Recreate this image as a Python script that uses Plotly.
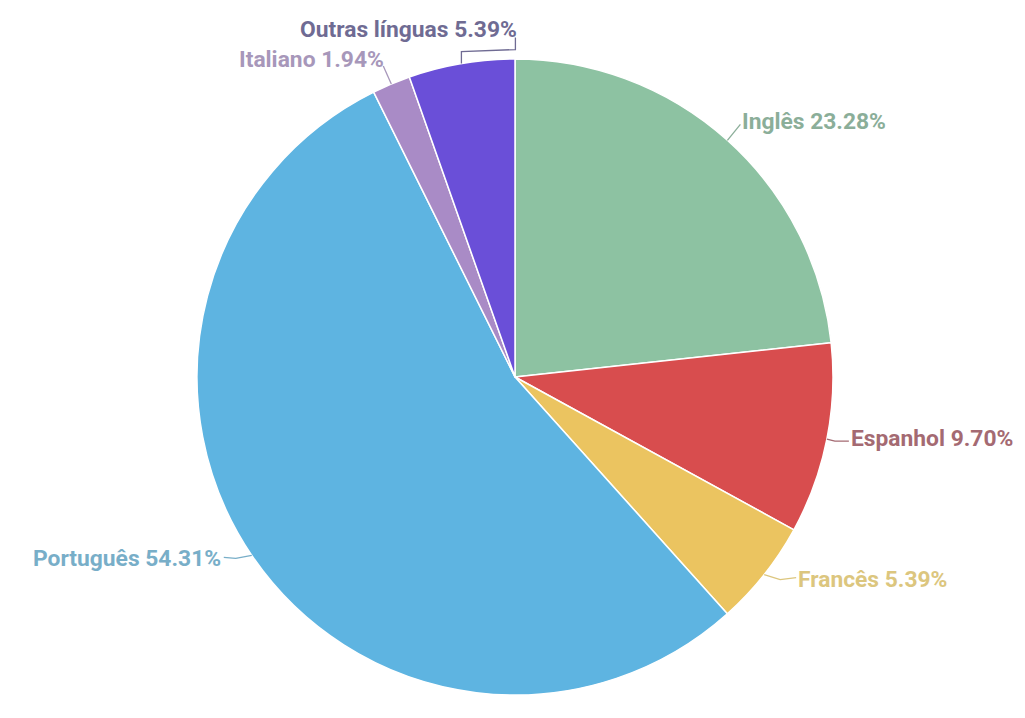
import math
import plotly.graph_objects as go

labels = ["Inglês", "Espanhol", "Francês", "Português", "Italiano", "Outras línguas"]
values = [23.28, 9.70, 5.39, 54.31, 1.94, 5.39]
slice_colors = ["#8DC2A2", "#D84D4E", "#EBC460", "#5EB4E1", "#A98BC6", "#6A4FD8"]
label_colors = ["#8BAE99", "#A46A72", "#DCC67E", "#78AEC8", "#A797BA", "#6F6B93"]

W, H = 1025, 718
CX, CY, R = 515, 377, 318

# leader path offsets (px, relative to slice edge point) and text placement
leader_style = [
    dict(path=[(0, 0), (13, -16)], text=(13, -19), anchor="left"),
    dict(path=[(0, 0), (8, 2), (22, 2)], text=(22, -1), anchor="left"),
    dict(path=[(0, 0), (16, 5), (32, 3)], text=(32, 5), anchor="left"),
    dict(path=[(0, 0), (-16, 3), (-28, 2)], text=(-29, 3), anchor="right"),
    dict(path=[(0, 0), (-8, -18)], text=(-5, -25), anchor="right"),
    dict(path=[(0, 0), (0, -12), (54, -14), (54, -26)], text=(58, -34), anchor="right"),
]

fig = go.Figure(go.Pie(
    labels=labels, values=values, sort=False, direction="clockwise", rotation=0,
    marker=dict(colors=slice_colors, line=dict(color="white", width=1.5)),
    textinfo="none", hoverinfo="label+percent", showlegend=False,
    domain=dict(x=[(CX - R) / W, (CX + R) / W], y=[1 - (CY + R) / H, 1 - (CY - R) / H]),
))

def px2paper(x, y):
    return x / W, 1 - y / H

total = sum(values)
cum = 0.0
shapes, annotations = [], []
for lab, val, col, st in zip(labels, values, label_colors, leader_style):
    mid = (cum + val / 2) / total * 360.0
    cum += val
    a = math.radians(mid)
    ex, ey = CX + R * math.sin(a), CY - R * math.cos(a)
    pts = [px2paper(ex + dx, ey + dy) for dx, dy in st["path"]]
    path = "M " + " L ".join(f"{p[0]:.5f} {p[1]:.5f}" for p in pts)
    shapes.append(dict(type="path", path=path, xref="paper", yref="paper",
                       line=dict(color=col, width=1.3)))
    tx, ty = px2paper(ex + st["text"][0], ey + st["text"][1])
    annotations.append(dict(
        x=tx, y=ty, xref="paper", yref="paper", showarrow=False,
        text=f"{lab} {val:.2f}%", xanchor=st["anchor"], yanchor="middle",
        font=dict(family="Roboto", size=22.8, color=col, weight="bold"),
    ))

fig.update_layout(
    width=W, height=H, margin=dict(l=0, r=0, t=0, b=0),
    paper_bgcolor="white", plot_bgcolor="white",
    shapes=shapes, annotations=annotations,
)
fig.write_html("out.html")
